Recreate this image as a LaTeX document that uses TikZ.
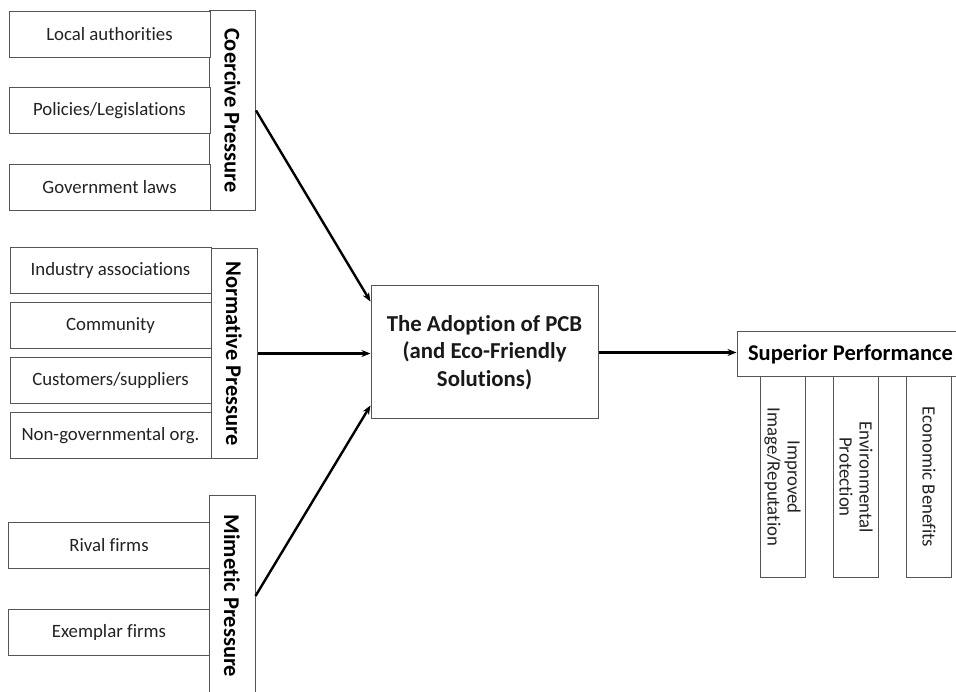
\documentclass[tikz,border=0pt]{standalone}
\usepackage{fontspec}
\setmainfont{Carlito}[Ligatures=NoCommon]
\usetikzlibrary{arrows.meta,calc}
\definecolor{boxline}{RGB}{85,85,85}
\definecolor{txt}{RGB}{35,35,35}
\begin{document}
\begin{tikzpicture}[x=1pt,y=-1pt,
  item/.style={draw=boxline,line width=1pt,fill=white,minimum width=201pt,minimum height=46pt,inner sep=0pt,
    font=\fontsize{18.8}{22}\selectfont,text=txt},
  pressure/.style={draw=boxline,line width=1pt,fill=white,rotate=-90,minimum height=46pt,inner sep=0pt,
    font=\bfseries\fontsize{22.5}{26}\selectfont,text=black},
  central/.style={draw=boxline,line width=1pt,minimum width=227pt,minimum height=133pt,inner sep=0pt,align=center,
    font=\bfseries\fontsize{22.8}{27.5}\selectfont,text=black!90},
  outcome/.style={draw=boxline,line width=1pt,rotate=-90,minimum width=200pt,minimum height=45pt,inner sep=0pt,align=center,
    font=\fontsize{18.8}{20}\selectfont,text=txt},
  conn/.style={line width=2.4pt,-{Stealth[length=9pt,width=7pt]}}
]
\useasboundingbox (0,0) rectangle (956,692);

% Coercive group
\node[pressure,minimum width=200pt] (coer) at (232.5,110.5) {Coercive Pressure};
\node[item] (la) at (109.5,34.5) {Local authorities};
\node[item] (pl) at (109.5,110.5) {Policies/Legislations};
\node[item] (gl) at (109.5,187.5) {Government laws};

% Normative group
\node[pressure,minimum width=209pt] (norm) at (234,353.5) {Normative Pressure};
\node[item] (ia) at (110.5,270.5) {Industry associations};
\node[item] (cm) at (110.5,325.5) {Community};
\node[item] (cs) at (110.5,380.5) {Customers/suppliers};
\node[item] (ng) at (110.5,435.5) {Non-governmental org.};

% Mimetic group
\node[pressure,minimum width=202pt] (mim) at (232,596) {Mimetic Pressure};
\node[item] (rf) at (109,545) {Rival firms};
\node[item] (ef) at (109,632.5) {Exemplar firms};

% Central
\node[central] (adopt) at (484.5,352.5) {The Adoption of PCB\\(and Eco-Friendly\\Solutions)};

% Superior performance
\node[draw=boxline,line width=1pt,minimum width=227pt,minimum height=45pt,inner sep=0pt,
  font=\bfseries\fontsize{22.5}{26}\selectfont,text=black] (sup) at (850.5,354.5) {Superior Performance};
\node[outcome] (img) at (782.5,477) {Improved\\Image/Reputation};
\node[outcome] (env) at (856,477) {Environmental\\Protection};
\node[outcome] (eco) at (929,477) {Economic Benefits};

% Connectors
\draw[conn] (coer.north) -- ($(adopt.north west)!0.12!(adopt.south west)$);
\draw[conn] (norm.north) -- (norm.north -| adopt.west);
\draw[conn] (mim.north) -- ($(adopt.north west)!0.895!(adopt.south west)$);
\draw[conn] (adopt.east) -- (adopt.east -| sup.west);
\end{tikzpicture}
\end{document}
